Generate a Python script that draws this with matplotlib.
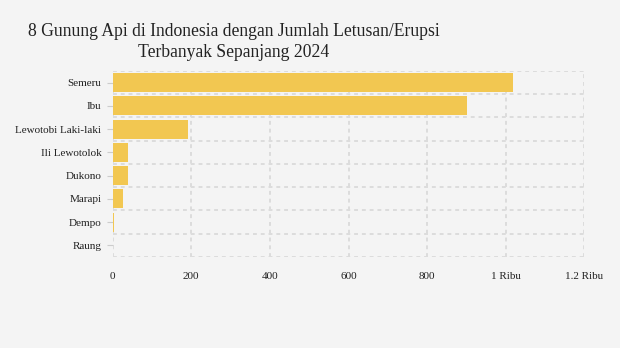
import matplotlib.pyplot as plt
import numpy as np

gunung = ["Semeru", "Ibu", "Lewotobi Laki-laki", "Ili Lewotolok",
          "Dukono", "Marapi", "Dempo", "Raung"]
letusan = [1018, 901, 192, 39, 39, 27, 3, 0]
x_ticks = [0, 200, 400, 600, 800, 1000, 1200]
x_labels = ["0", "200", "400", "600", "800", "1 Ribu", "1.2 Ribu"]

bg = "#f4f4f4"
bar_color = "#f2c751"
grid_color = "#dcdcdc"

fig = plt.figure(figsize=(6.2, 3.48), dpi=100, facecolor=bg)
ax = fig.add_axes([0.1815, 0.2615, 0.7612, 0.5345], facecolor=bg)

y = np.arange(len(gunung))
ax.barh(y, letusan, height=0.82, color=bar_color, zorder=2)

ax.set_xlim(0, 1200)
ax.set_ylim(len(gunung) - 0.5, -0.5)
ax.set_yticks(y)
ax.set_yticklabels(gunung, fontfamily="Liberation Serif", fontsize=8, color="#222222")
ax.set_xticks(x_ticks)
ax.set_xticklabels(x_labels, fontfamily="Liberation Serif", fontsize=8, color="#222222")

# grid: vertical at ticks, horizontal between categories
for xv in x_ticks:
    ax.axvline(xv, color=grid_color, lw=1.4, ls=(0, (2, 2)), zorder=1)
for yv in np.arange(-0.5, len(gunung), 1):
    ax.axhline(yv, color=grid_color, lw=1.4, ls=(0, (2, 2)), zorder=1)

for s in ax.spines.values():
    s.set_visible(False)
ax.tick_params(axis="y", length=4, color="#cccccc", pad=4)
ax.tick_params(axis="x", length=0, pad=11)

fig.text(0.377, 0.879, "8 Gunung Api di Indonesia dengan Jumlah Letusan/Erupsi\nTerbanyak Sepanjang 2024",
         ha="center", va="center", fontfamily="Liberation Serif", fontsize=12.7,
         color="#222222", linespacing=1.35)

fig.savefig("out.png", dpi=100, facecolor=bg)
